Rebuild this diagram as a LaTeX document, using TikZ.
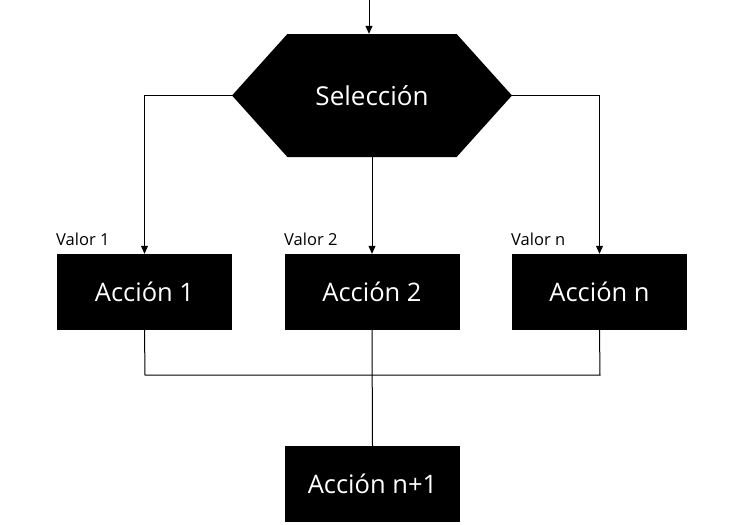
\documentclass[tikz,border=0pt]{standalone}
\usepackage{fontspec}
\setmainfont{Open Sans}
\usetikzlibrary{shapes.symbols,arrows.meta}
\definecolor{vblack}{HTML}{000000}

\begin{document}
\begin{tikzpicture}[x=1pt,y=-1pt,
		accion/.style={fill=vblack, text=white, minimum width=175, minimum height=76, inner sep=0, font=\fontsize{25.5}{30}\selectfont},
		valor/.style={anchor=base west, inner sep=0, font=\fontsize{16.5}{19}\selectfont},
		flecha/.style={-{Triangle[length=8pt,width=7pt]}, line width=1pt},
		linea/.style={line width=1pt}]
		\useasboundingbox (0,0) rectangle (748,525);
		\node[signal, signal to=west and east, signal pointer angle=96, fill=vblack, text=white, minimum width=280, minimum height=123, inner sep=0, font=\fontsize{26}{30}\selectfont] (sel) at (372,95.5) {Selección};
		\node[accion] (a1) at (144.5,292) {Acción 1};
		\node[accion] (a2) at (372,292) {Acción 2};
		\node[accion] (an) at (599.5,292) {Acción n};
		\node[accion] (af) at (372.5,484) {Acción n+1};
		\node[valor] (v1) at (56,245) {Valor 1};
		\node[valor] (v2) at (284,245) {Valor 2};
		\node[valor] (vn) at (511,245) {Valor n};
		\coordinate (ent) at (369,0);
		\coordinate (izq) at (145,375);
		\coordinate (der) at (600,375);
		\draw[flecha] (ent) -- (ent |- sel.north);
		\draw[flecha] (sel.west) -| (a1.north);
		\draw[flecha] (sel.east) -| (an.north);
		\draw[flecha] (sel.south) -- (a2.north);
		\draw[linea] (a1.south) -- (izq) -- (der) -- (an.south);
		\draw[linea] (a2.south) -- (af.north);
	\end{tikzpicture}
\end{document}
